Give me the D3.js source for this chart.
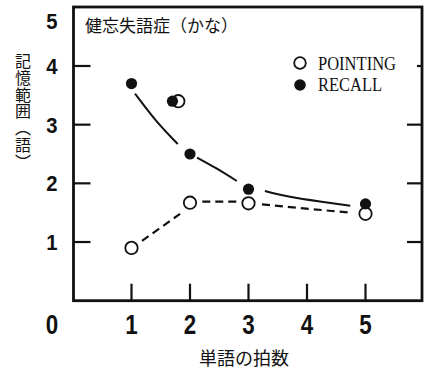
<!DOCTYPE html>
<html><head><meta charset="utf-8">
<script src="https://cdn.jsdelivr.net/npm/d3@7"></script>
<style>html,body{margin:0;padding:0;background:#fff;}svg{display:block;}</style>
</head><body>
<svg id="c" width="424" height="372"></svg>
<script>
// ---- data ----
const title = "健忘失語症（かな）";
const yTitle = "記憶範囲（語）";
const xTitle = "単語の拍数";
const xTickValues = [1, 2, 3, 4, 5];
const yTickValues = [1, 2, 3, 4];
const yTickLabels = ["1", "2", "3", "4", "5"];
const xTickLabels = ["1", "2", "3", "4", "5"];
const originLabel = "0";
const seriesNames = ["POINTING", "RECALL"];
// POINTING (open circles)
const pointingX = [1, 1.8, 2, 3, 5];
const pointingY = [0.9, 3.4, 1.67, 1.66, 1.48];
// RECALL (filled circles)
const recallX = [1, 1.7, 2, 3, 5];
const recallY = [3.7, 3.4, 2.5, 1.9, 1.65];
// solid fitted curve (RECALL), read as segments
const recallCurve = [
  [[1.06, 3.53], [1.42, 3.07], [1.79, 2.67]],
  [[2.12, 2.44], [2.46, 2.25], [2.80, 2.04]],
  [[3.28, 1.87], [3.71, 1.77], [4.22, 1.69], [4.74, 1.62]]
];
// dashed line (POINTING), read as segments
const pointingCurve = [
  [[1.18, 1.02], [1.83, 1.48]],
  [[2.21, 1.69], [2.85, 1.69]],
  [[3.23, 1.64], [4.74, 1.50]]
];

// ---- drawing ----
const svg = d3.select("#c");
const L = 73.5, R = 422, T = 7.3, B = 300.7;
const x = d3.scaleLinear().domain([0, 5]).range([73, 365.5]);
const y = d3.scaleLinear().domain([0, 5]).range([B, T]);

// frame
svg.append("rect").attr("x", L).attr("y", 7).attr("width", R - L).attr("height", B - 7)
  .attr("fill", "none").attr("stroke", "#111").attr("stroke-width", 2.8);

// left ticks
svg.selectAll(".lt").data(yTickValues).join("line")
  .attr("x1", L).attr("x2", L + 17).attr("y1", d => y(d)).attr("y2", d => y(d))
  .attr("stroke", "#111").attr("stroke-width", 2.2);
// right ticks
svg.selectAll(".rt").data(yTickValues).join("line")
  .attr("x1", d => d === 4 ? R - 5 : R - 15).attr("x2", R).attr("y1", d => y(d)).attr("y2", d => y(d))
  .attr("stroke", "#111").attr("stroke-width", 2.2);
// bottom ticks
svg.selectAll(".bt").data(xTickValues).join("line")
  .attr("x1", d => x(d)).attr("x2", d => x(d)).attr("y1", B).attr("y2", B - 17)
  .attr("stroke", "#111").attr("stroke-width", 2.2);

// y tick labels
svg.selectAll(".yl").data(yTickLabels).join("text")
  .attr("transform", d => `translate(52,${Math.max(y(+d), 21) + 8}) scale(0.92,1)`)
  .attr("text-anchor", "middle")
  .attr("font-family", "Liberation Sans, Arial, sans-serif").attr("font-weight", "bold")
  .attr("font-size", 22).attr("fill", "#111").text(d => d);

// x tick labels (condensed)
svg.selectAll(".xl").data(xTickLabels).join("text")
  .attr("transform", d => `translate(${x(+d)},334) scale(0.8,1)`)
  .attr("text-anchor", "middle")
  .attr("font-family", "Liberation Sans, Arial, sans-serif").attr("font-weight", "bold")
  .attr("font-size", 28).attr("fill", "#111").text(d => d);
svg.append("text")
  .attr("transform", `translate(52,334) scale(0.8,1)`)
  .attr("text-anchor", "middle")
  .attr("font-family", "Liberation Sans, Arial, sans-serif").attr("font-weight", "bold")
  .attr("font-size", 28).attr("fill", "#111").text(originLabel);

// title
svg.append("text").attr("x", 85).attr("y", 32)
  .attr("font-family", "Noto Sans CJK JP").attr("font-size", 17).attr("fill", "#111")
  .text(title);

// y axis title (vertical)
svg.append("text").attr("x", 23).attr("y", 53)
  .style("writing-mode", "vertical-rl")
  .attr("font-family", "Noto Sans CJK JP").attr("font-size", 16).attr("fill", "#111")
  .attr("letter-spacing", 0.8)
  .text(yTitle);

// x axis title
svg.append("text").attr("x", 244).attr("y", 365).attr("text-anchor", "middle")
  .attr("font-family", "Noto Sans CJK JP").attr("font-size", 18).attr("fill", "#111")
  .text(xTitle);

// lines
const line = d3.line().x(d => x(d[0])).y(d => y(d[1])).curve(d3.curveNatural);
svg.selectAll(".rc").data(recallCurve).join("path")
  .attr("d", line).attr("fill", "none").attr("stroke", "#111").attr("stroke-width", 2);
svg.selectAll(".pc").data(pointingCurve).join("path")
  .attr("d", line).attr("fill", "none").attr("stroke", "#111").attr("stroke-width", 2.2)
  .attr("stroke-dasharray", "8,5");

// markers
svg.selectAll(".po").data(pointingX.map((v, i) => [v, pointingY[i]])).join("circle")
  .attr("cx", d => x(d[0])).attr("cy", d => y(d[1])).attr("r", 6.2)
  .attr("fill", "#fff").attr("stroke", "#111").attr("stroke-width", 1.8);
svg.selectAll(".re").data(recallX.map((v, i) => [v, recallY[i]])).join("circle")
  .attr("cx", d => x(d[0])).attr("cy", d => y(d[1])).attr("r", 5.6)
  .attr("fill", "#111");

// legend
const lg = svg.append("g");
lg.append("circle").attr("cx", 300).attr("cy", 63).attr("r", 5.8)
  .attr("fill", "#fff").attr("stroke", "#111").attr("stroke-width", 1.8);
lg.append("circle").attr("cx", 300).attr("cy", 85).attr("r", 5.8).attr("fill", "#111");
lg.selectAll(".lt2").data(seriesNames).join("text")
  .attr("x", 318).attr("y", (d, i) => i === 0 ? 70 : 91)
  .attr("font-family", "Liberation Serif, serif").attr("font-size", 19).attr("fill", "#111")
  .attr("textLength", (d, i) => i === 0 ? 78 : 64).attr("lengthAdjust", "spacingAndGlyphs")
  .text(d => d);
</script>
</body></html>
